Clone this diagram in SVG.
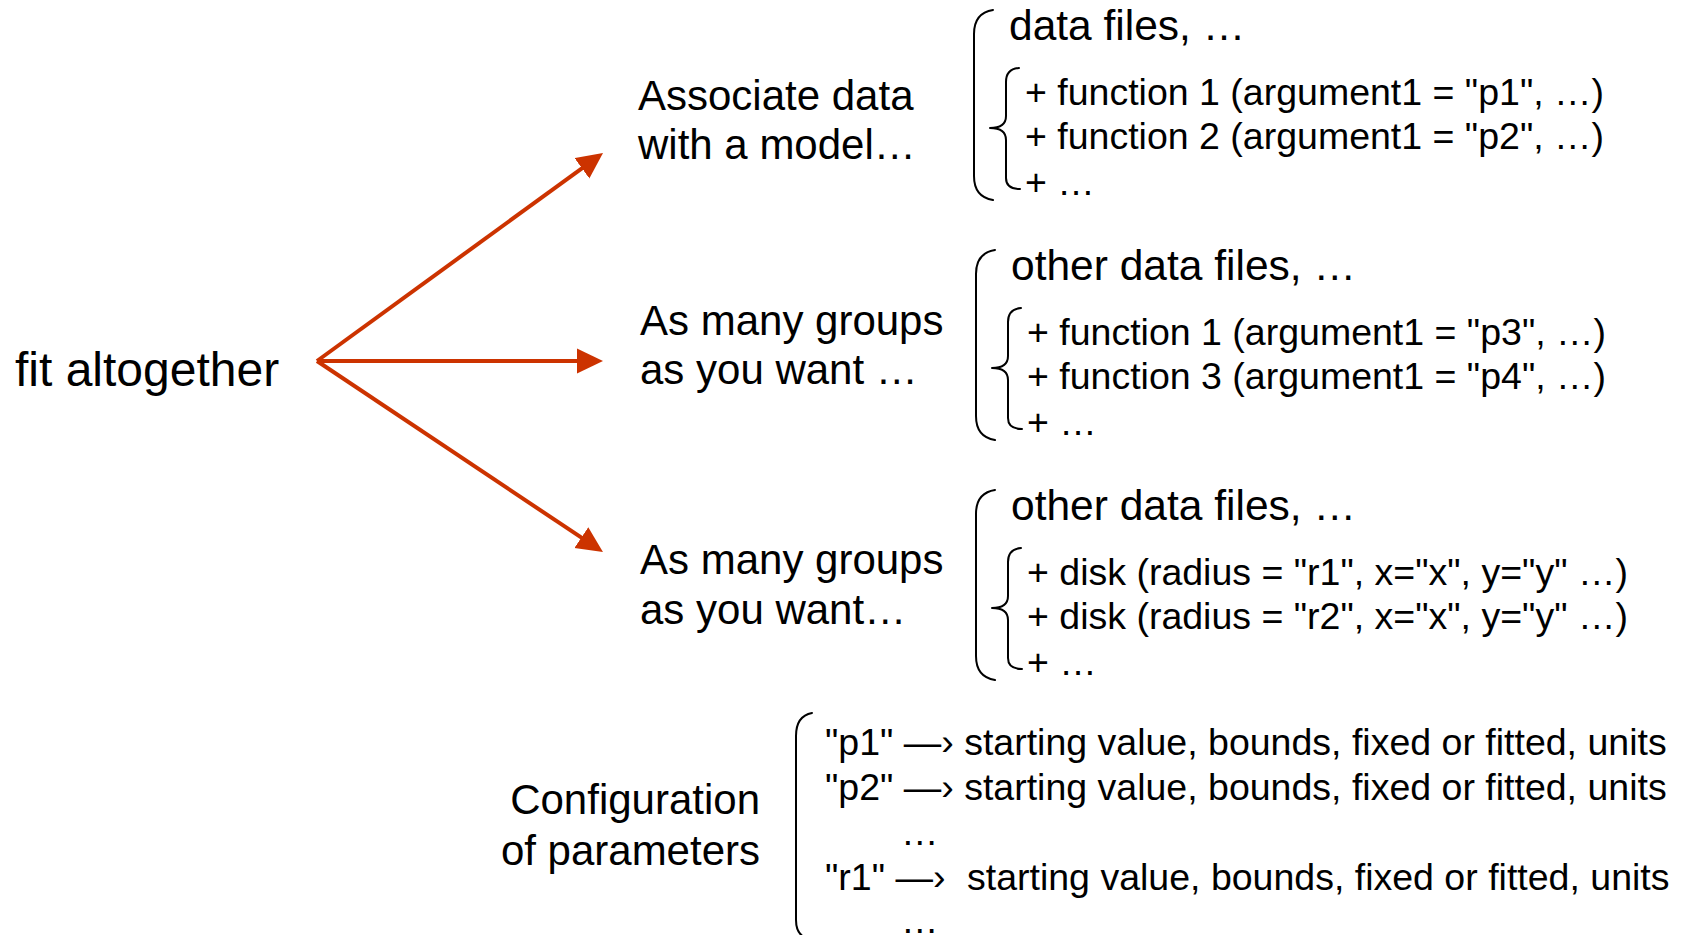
<svg xmlns="http://www.w3.org/2000/svg" width="1683" height="935" viewBox="0 0 1683 935">
<style>
text { font-family: "Liberation Sans", Arial, sans-serif; fill: #000; }
.big { font-size: 48px; }
.mid { font-size: 42px; }
.hdr { font-size: 42.5px; }
.ln { font-size: 37.5px; }
.br { fill: none; stroke: #000; stroke-width: 2; stroke-linecap: round; stroke-linejoin: round; }
.arr { stroke: #cc3300; stroke-width: 4; fill: none; marker-end: url(#ah); }
</style>
<defs>
<marker id="ah" markerUnits="userSpaceOnUse" markerWidth="26" markerHeight="26" viewBox="0 0 26 26" refX="2" refY="13" orient="auto">
<path d="M0,0.5 L26,13 L0,25.5 z" fill="#cc3300"/>
</marker>
<path id="outerBr" d="M 993 10 Q 974 13 974 34 L 974 176 Q 974 197 993 200"/>
<path id="innerBr" d="M 1019 68 Q 1006 69 1006 82 L 1006 116 Q 1006 128 990 128 Q 1006 128 1006 140 L 1006 178 Q 1006 189 1020 189"/>
</defs>
<rect width="1683" height="935" fill="#fff"/>

<g id="connectors">
<line class="arr" x1="317" y1="361" x2="583.6" y2="167.1"/>
<line class="arr" x1="317" y1="361" x2="579" y2="361"/>
<line class="arr" x1="317" y1="361" x2="583" y2="538.7"/>
</g>

<g id="fit">
<text class="big" x="15" y="386">fit altogether</text>
</g>

<g id="label1">
<text class="mid" x="638" y="110">Associate data</text>
<text class="mid" x="638" y="159">with a model…</text>
</g>
<g id="label2">
<text class="mid" x="640" y="335">As many groups</text>
<text class="mid" x="640" y="384">as you want …</text>
</g>
<g id="label3">
<text class="mid" x="640" y="574">As many groups</text>
<text class="mid" x="640" y="624">as you want…</text>
</g>

<g id="block1">
<use href="#outerBr" class="br"/>
<use href="#innerBr" class="br"/>
<text class="hdr" x="1009" y="40">data files, …</text>
<text class="ln" x="1025" y="105">+ function 1 (argument1 = "p1", …)</text>
<text class="ln" x="1025" y="149">+ function 2 (argument1 = "p2", …)</text>
<text class="ln" x="1025" y="195">+ …</text>
</g>

<g id="block2" transform="translate(2,240)">
<use href="#outerBr" class="br"/>
<use href="#innerBr" class="br"/>
<text class="hdr" x="1009" y="40">other data files, …</text>
<text class="ln" x="1025" y="105">+ function 1 (argument1 = "p3", …)</text>
<text class="ln" x="1025" y="149">+ function 3 (argument1 = "p4", …)</text>
<text class="ln" x="1025" y="195">+ …</text>
</g>

<g id="block3" transform="translate(2,480)">
<use href="#outerBr" class="br"/>
<use href="#innerBr" class="br"/>
<text class="hdr" x="1009" y="40">other data files, …</text>
<text class="ln" x="1025" y="105">+ disk (radius = "r1", x="x", y="y" …)</text>
<text class="ln" x="1025" y="149">+ disk (radius = "r2", x="x", y="y" …)</text>
<text class="ln" x="1025" y="195">+ …</text>
</g>

<g id="config">
<text class="mid" x="760" y="814" text-anchor="end">Configuration</text>
<text class="mid" x="760" y="865" text-anchor="end">of parameters</text>
</g>

<g id="params">
<path class="br" d="M 812 713 Q 796 716 796 736 L 796 920 Q 796 934 806 938"/>
<text class="ln" x="825" y="755">"p1" —› starting value, bounds, fixed or fitted, units</text>
<text class="ln" x="825" y="800">"p2" —› starting value, bounds, fixed or fitted, units</text>
<text class="ln" x="901" y="845">…</text>
<text class="ln" x="825" y="890">"r1" —›<tspan x="967">starting value, bounds, fixed or fitted, units</tspan></text>
<text class="ln" x="901" y="933">…</text>
</g>
</svg>
